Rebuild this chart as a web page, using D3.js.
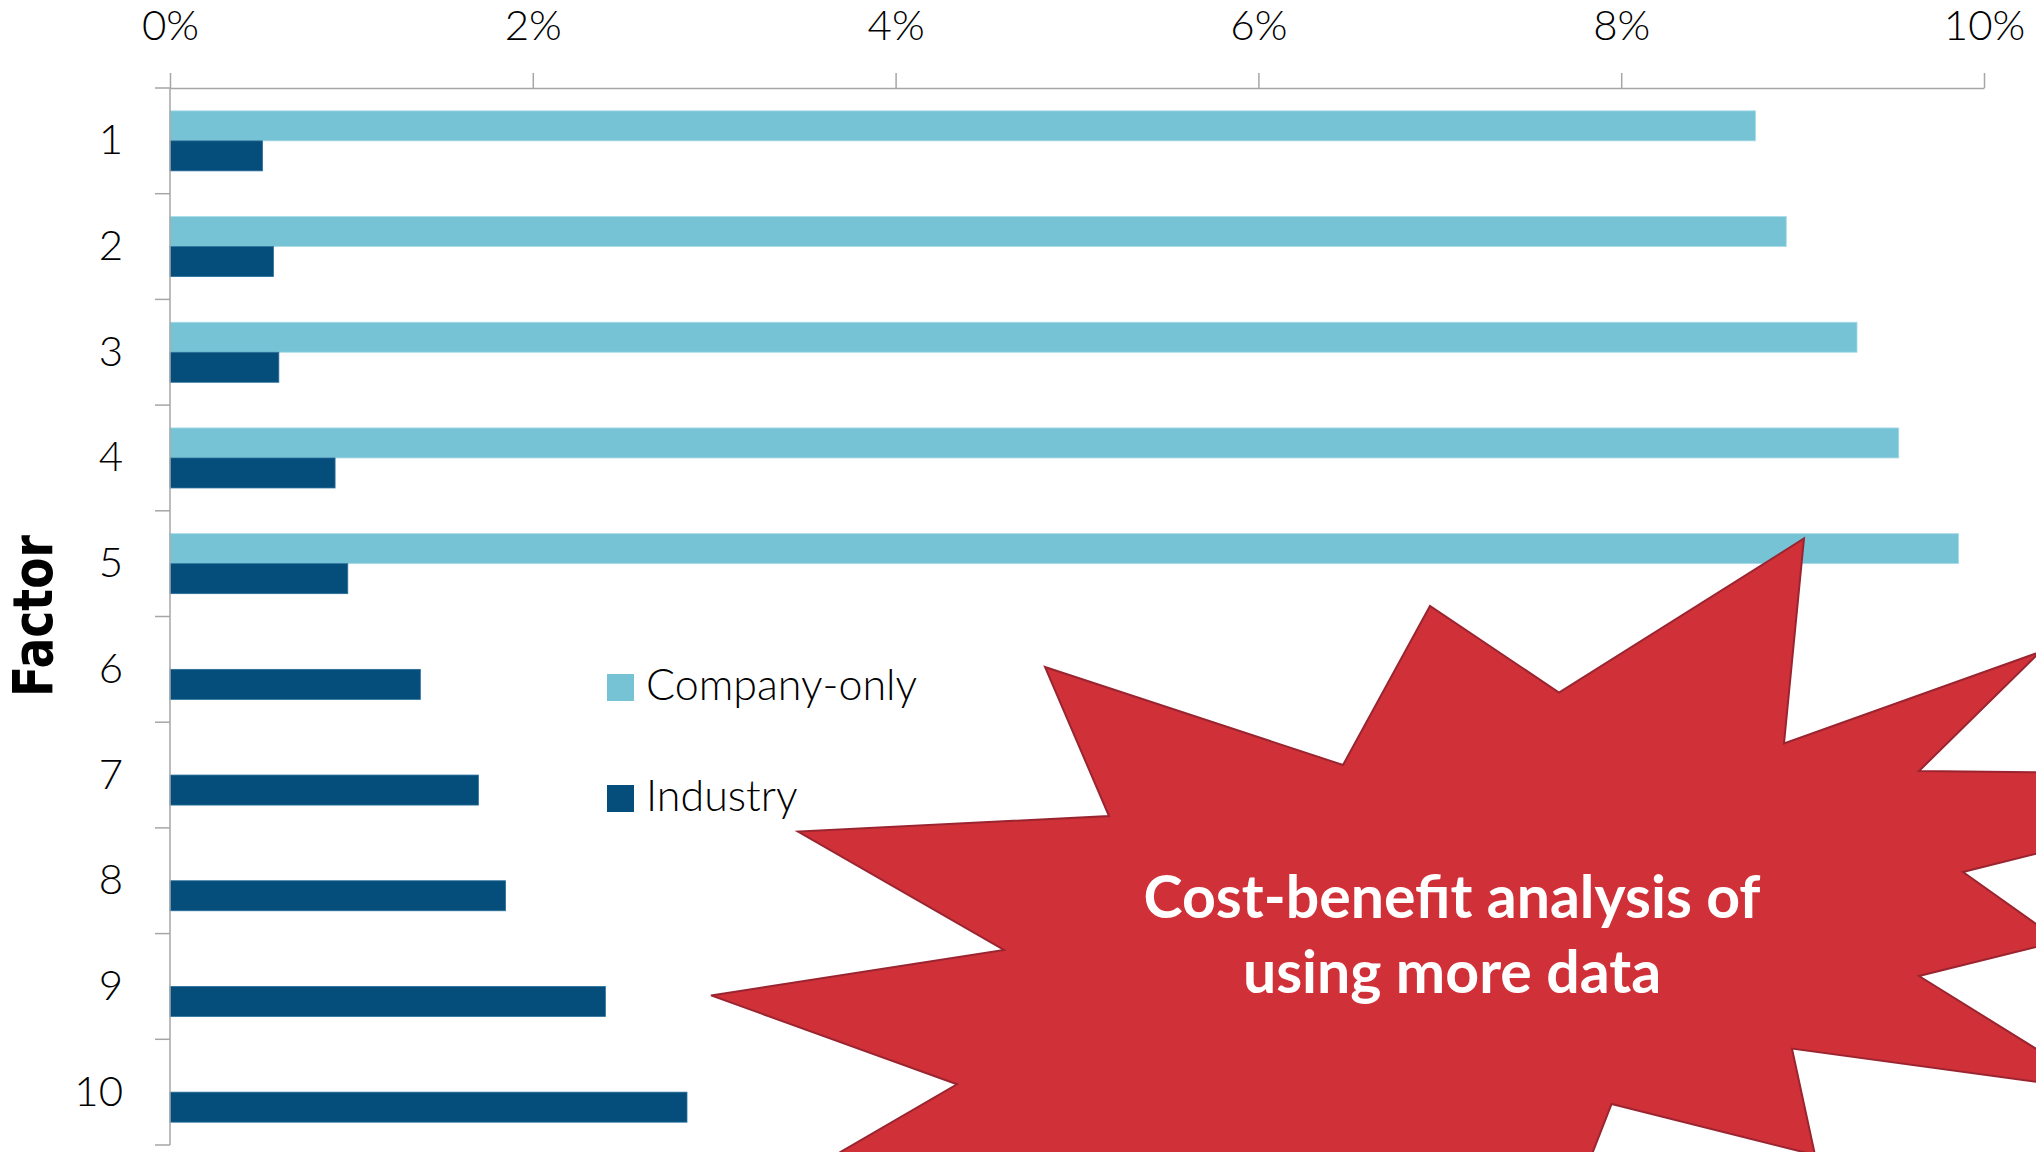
<!DOCTYPE html>
<html>
<head>
<meta charset="utf-8">
<script src="https://cdn.jsdelivr.net/npm/d3@7"></script>
<style>
  html, body { margin: 0; padding: 0; background: #ffffff; }
  svg { display: block; }
</style>
</head>
<body>
<svg id="chart" width="2036" height="1152"></svg>
<script>
// Factors and the share for each data source
const factors = ["1", "2", "3", "4", "5", "6", "7", "8", "9", "10"];
const seriesNames = ["Company-only", "Industry"];
const companyOnly = [0.0874, 0.0891, 0.0930, 0.0953, 0.0986, null, null, null, null, null];
const industry = [0.0051, 0.0057, 0.0060, 0.0091, 0.0098, 0.0138, 0.0170, 0.0185, 0.0240, 0.0285];
const xTicks = [0, 0.02, 0.04, 0.06, 0.08, 0.10];
const calloutLines = ["Cost-benefit analysis of", "using more data"];

const colors = { "Company-only": "#77c3d6", "Industry": "#054e7b" };
const axisColor = "#a6a6a6";
const lightFont = "Lato, 'Open Sans', sans-serif";

const svg = d3.select("#chart");

const plot = { left: 170, right: 1984, top: 88, bottom: 1145 };

const x = d3.scaleLinear().domain([0, 0.10]).range([plot.left, plot.right]);
const y = d3.scaleBand().domain(factors)
  .range([plot.top, plot.bottom])
  .paddingInner(0.432).paddingOuter(0.216);
const ySub = d3.scaleBand().domain(seriesNames).range([0, y.bandwidth()]);

const rows = factors.map((f, i) => ({
  factor: f,
  values: [
    { series: "Company-only", value: companyOnly[i] },
    { series: "Industry", value: industry[i] }
  ].filter(d => d.value != null)
}));

// Bars
const groups = svg.append("g").selectAll("g").data(rows).join("g")
  .attr("transform", d => `translate(0,${y(d.factor)})`);
groups.selectAll("rect").data(d => d.values).join("rect")
  .attr("x", x(0))
  .attr("y", d => ySub(d.series))
  .attr("width", d => x(d.value) - x(0))
  .attr("height", ySub.bandwidth())
  .attr("fill", d => colors[d.series])
  .attr("stroke", d => d.series === "Industry" ? "#2a6f9b" : "#a8dbe8")
  .attr("stroke-width", 0.8);

// Top value axis
const xAxis = svg.append("g")
  .attr("transform", `translate(0,${plot.top})`)
  .call(d3.axisTop(x).tickValues(xTicks).tickFormat(d3.format(".0%"))
    .tickSize(15).tickSizeOuter(0).tickPadding(33));
xAxis.select(".domain").attr("stroke", axisColor).attr("stroke-width", 1.5);
xAxis.selectAll(".tick line").attr("stroke", axisColor).attr("stroke-width", 1.5);
xAxis.selectAll(".tick text")
  .attr("fill", "#000").style("font-family", lightFont)
  .style("font-weight", 300).style("font-size", "42px");

// Left category axis: labels centred on each band, ticks between bands
const yAxis = svg.append("g")
  .attr("transform", `translate(${plot.left},0)`)
  .call(d3.axisLeft(y).tickSize(0).tickPadding(47));
yAxis.select(".domain").remove();
yAxis.selectAll(".tick text")
  .attr("fill", "#000").style("font-family", lightFont)
  .style("font-weight", 300).style("font-size", "42px");

const step = y.step();
const boundaries = d3.range(factors.length + 1).map(i => plot.top + i * step);
svg.append("g").selectAll("line").data(boundaries).join("line")
  .attr("x1", plot.left - 15).attr("x2", plot.left)
  .attr("y1", d => d).attr("y2", d => d)
  .attr("stroke", axisColor).attr("stroke-width", 1.5);
svg.append("line")
  .attr("x1", plot.left).attr("x2", plot.left)
  .attr("y1", plot.top).attr("y2", plot.bottom)
  .attr("stroke", axisColor).attr("stroke-width", 1.5);

// Axis title
svg.append("text")
  .attr("transform", "translate(52,616) rotate(-90)")
  .attr("text-anchor", "middle")
  .attr("textLength", 162).attr("lengthAdjust", "spacingAndGlyphs")
  .style("font-family", "'DejaVu Sans', sans-serif")
  .style("font-weight", 700).style("font-size", "56px")
  .attr("fill", "#000")
  .text("Factor");

// Legend
const legend = svg.append("g").selectAll("g").data(seriesNames).join("g")
  .attr("transform", (d, i) => `translate(607,${674 + i * 111})`);
legend.append("rect")
  .attr("width", 27).attr("height", 27)
  .attr("fill", d => colors[d]);
legend.append("text")
  .attr("x", 39).attr("y", 26)
  .style("font-family", lightFont).style("font-weight", 300).style("font-size", "43px")
  .attr("fill", "#000")
  .text(d => d);

// Callout burst
const burst = [
  [1045, 667], [1343, 765], [1430, 606], [1559, 692.5], [1804, 538.5],
  [1784, 743.5], [2040, 652], [1919, 771], [2350, 775.5], [1963, 872],
  [2060, 941], [1919, 976], [2104, 1091], [1792, 1048.6], [1815, 1155],
  [1611.6, 1104], [1574, 1200], [1200, 1190], [782, 1186], [957, 1084.3],
  [711, 995.4], [1004, 950], [798, 831.5], [1109, 816]
];
svg.append("path")
  .attr("d", d3.line()(burst) + "Z")
  .attr("fill", "#d03038")
  .attr("stroke", "#9a2530")
  .attr("stroke-width", 2)
  .attr("stroke-linejoin", "miter");

svg.append("g").selectAll("text").data(calloutLines).join("text")
  .attr("x", 1452)
  .attr("y", (d, i) => 918 + i * 75)
  .attr("text-anchor", "middle")
  .style("font-family", lightFont).style("font-weight", 700).style("font-size", "59px")
  .attr("fill", "#ffffff")
  .text(d => d);
</script>
</body>
</html>
